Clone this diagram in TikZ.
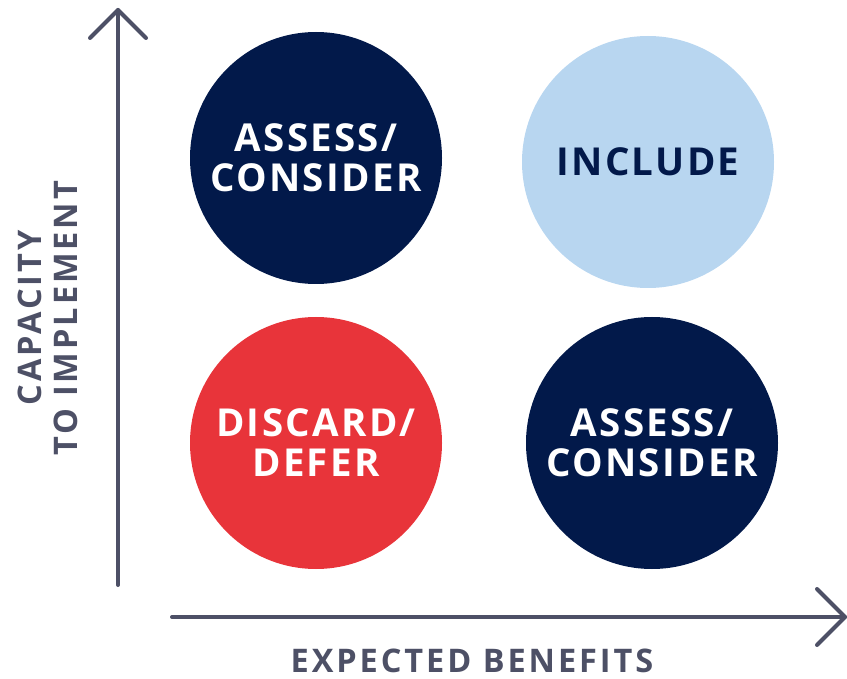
\documentclass[tikz,border=0pt]{standalone}
\usepackage{fontspec}
\setmainfont{Open Sans}[LetterSpace=6]
\usetikzlibrary{positioning}
\definecolor{navy}{HTML}{02194A}
\definecolor{skyblue}{HTML}{B8D6F0}
\definecolor{alertred}{HTML}{E8343A}
\definecolor{axisgray}{HTML}{4D5066}

\begin{document}
\begin{tikzpicture}
        [x=1pt, y=-1pt,
        bubble/.style={circle, minimum size=252pt, inner sep=0pt,
            text=white, align=center,
            font=\bfseries\fontsize{38.5}{40}\selectfont},
        axisline/.style={draw=axisgray, line width=4pt, line cap=round, line join=round},
        axislabel/.style={text=axisgray, align=center, inner sep=0pt,
            font=\bfseries\fontsize{32.5}{36}\selectfont\addfontfeature{LetterSpace=9}}]
        \useasboundingbox (0,0) rectangle (847,679);
        % quadrants
        \node [bubble, fill=navy] (assesstop) at (316,158) {ASSESS/\\CONSIDER};
        \node [bubble, fill=skyblue, text=navy] (include) at (648,162) {INCLUDE};
        \node [bubble, fill=alertred] (discard) at (316,443) {DISCARD/\\DEFER};
        \node [bubble, fill=navy] (assessbot) at (652,443) {ASSESS/\\CONSIDER};
        % axes
        \coordinate (ytop) at (118,10);
        \coordinate (ybot) at (118,585);
        \coordinate (xleft) at (172,617);
        \coordinate (xright) at (845,617);
        \draw [axisline] (ybot) -- (ytop);
        \draw [axisline] (ytop) ++(-28,28) -- (ytop) -- ++(28,28);
        \draw [axisline] (xleft) -- (xright);
        \draw [axisline] (xright) ++(-28,-28) -- (xright) -- ++(-28,28);
        \node [axislabel, rotate=90] (ylabel) at (48,318) {CAPACITY\\TO IMPLEMENT};
        \node [axislabel] (xlabel) at (472,661) {EXPECTED BENEFITS};
\end{tikzpicture}
\end{document}
